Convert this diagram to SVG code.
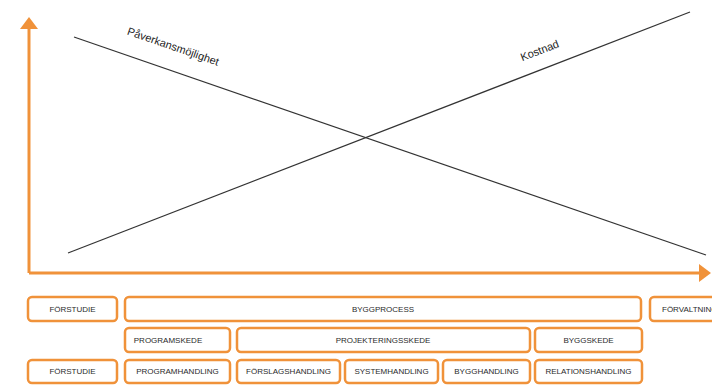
<svg xmlns="http://www.w3.org/2000/svg" width="712" height="385" viewBox="0 0 712 385">
<style>
.box{fill:#fff;stroke:#F0923A;stroke-width:2.5}
.lbl{font-family:"Liberation Sans",Arial,sans-serif;font-size:8px;fill:#2a2a2a;text-anchor:middle;dominant-baseline:central}
.curve{stroke:#333;stroke-width:1.2;fill:none}
.cap{font-family:"Liberation Sans",Arial,sans-serif;font-size:11px;fill:#222;text-anchor:middle}
</style>
<defs>
<marker id="ah" markerWidth="10" markerHeight="10" refX="3" refY="3" orient="auto" markerUnits="strokeWidth"><path d="M0,0 L4,3 L0,6 Z" fill="#F0923A"/></marker>
</defs>
<rect width="712" height="385" fill="#fff"/>
<g id="connectors">
<path d="M29,273 L29,20" stroke="#F0923A" stroke-width="3" fill="none" marker-end="url(#ah)"/>
<path d="M29,273 L708,273" stroke="#F0923A" stroke-width="3" fill="none" marker-end="url(#ah)"/>
<line class="curve" x1="74" y1="37" x2="706" y2="255"/>
<line class="curve" x1="68" y1="253" x2="690" y2="12"/>
</g>
<text class="cap" transform="translate(172,50) rotate(19)">Påverkansmöjlighet</text>
<text class="cap" transform="translate(541,54) rotate(-21)">Kostnad</text>
<g id="n-forstudie1"><rect class="box" x="28" y="297" width="89" height="24" rx="4"/><text class="lbl" x="72.5" y="309">FÖRSTUDIE</text></g>
<g id="n-byggprocess"><rect class="box" x="125" y="297" width="516" height="24" rx="4"/><text class="lbl" x="383" y="309">BYGGPROCESS</text></g>
<g id="n-forvaltning"><rect class="box" x="650" y="297" width="80" height="24" rx="4"/><text class="lbl" x="662" y="309" style="text-anchor:start">FÖRVALTNING</text></g>
<g id="n-programskede"><rect class="box" x="125" y="328" width="105" height="24" rx="4"/><text class="lbl" x="168" y="340">PROGRAMSKEDE</text></g>
<g id="n-projekteringsskede"><rect class="box" x="237" y="328" width="293" height="24" rx="4"/><text class="lbl" x="383" y="340">PROJEKTERINGSSKEDE</text></g>
<g id="n-byggskede"><rect class="box" x="535" y="328" width="107" height="24" rx="4"/><text class="lbl" x="588.5" y="340">BYGGSKEDE</text></g>
<g id="n-forstudie2"><rect class="box" x="28" y="360" width="89" height="23" rx="4"/><text class="lbl" x="72.5" y="371.5">FÖRSTUDIE</text></g>
<g id="n-programhandling"><rect class="box" x="125" y="360" width="105" height="23" rx="4"/><text class="lbl" x="177.5" y="371.5">PROGRAMHANDLING</text></g>
<g id="n-forslagshandling"><rect class="box" x="237" y="360" width="103" height="23" rx="4"/><text class="lbl" x="288.5" y="371.5">FÖRSLAGSHANDLING</text></g>
<g id="n-systemhandling"><rect class="box" x="345" y="360" width="93" height="23" rx="4"/><text class="lbl" x="391.5" y="371.5">SYSTEMHANDLING</text></g>
<g id="n-bygghandling"><rect class="box" x="443" y="360" width="87" height="23" rx="4"/><text class="lbl" x="486.5" y="371.5">BYGGHANDLING</text></g>
<g id="n-relationshandling"><rect class="box" x="535" y="360" width="107" height="23" rx="4"/><text class="lbl" x="588.5" y="371.5">RELATIONSHANDLING</text></g>
</svg>
